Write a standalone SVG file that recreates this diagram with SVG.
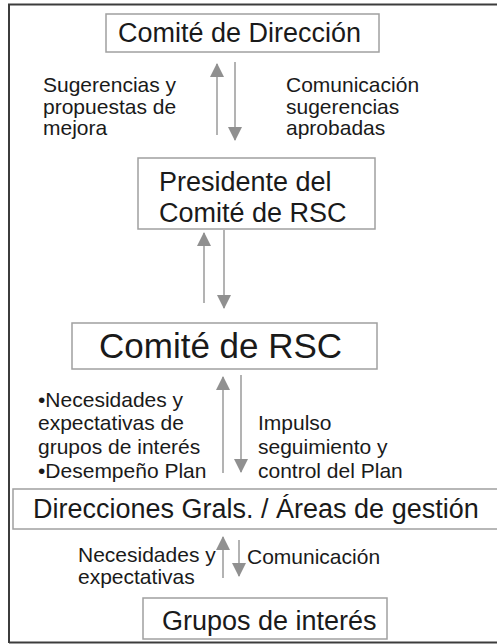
<svg xmlns="http://www.w3.org/2000/svg" width="497" height="644" viewBox="0 0 497 644">
<style>
.box{fill:#fff;stroke:#a0a0a0;stroke-width:1.5}
.t{font-family:"Liberation Sans",Arial,sans-serif;fill:#1a1a1a}
.big{font-size:27px}
.sm{font-size:21px}
.ln{stroke:#a0a0a0;stroke-width:1.6;fill:none}
</style>
<defs>
<marker id="ah" viewBox="0 0 14 14" refX="13" refY="7" markerWidth="14" markerHeight="14" markerUnits="userSpaceOnUse" orient="auto">
<path d="M0,0 L14,7 L0,14 Z" fill="#909090"/>
</marker>
</defs>
<rect x="0" y="0" width="497" height="644" fill="#fff"/>
<path d="M9,643 L9,4.5 L497,4.5 M9,642.5 L497,642.5" fill="none" stroke="#3c3c3c" stroke-width="2"/>
<g id="connectors">
<line class="ln" x1="217" y1="135" x2="217" y2="64" marker-end="url(#ah)"/>
<line class="ln" x1="235" y1="62" x2="235" y2="140" marker-end="url(#ah)"/>
<line class="ln" x1="204" y1="303" x2="204" y2="233" marker-end="url(#ah)"/>
<line class="ln" x1="224" y1="230" x2="224" y2="308" marker-end="url(#ah)"/>
<line class="ln" x1="223" y1="473" x2="223" y2="377" marker-end="url(#ah)"/>
<line class="ln" x1="241" y1="375" x2="241" y2="472" marker-end="url(#ah)"/>
<line class="ln" x1="223" y1="578" x2="223" y2="537" marker-end="url(#ah)"/>
<line class="ln" x1="239" y1="540" x2="239" y2="576" marker-end="url(#ah)"/>
</g>
<g id="comite-direccion">
<rect class="box" x="106" y="14" width="273" height="38"/>
<text class="t big" x="118" y="42">Comité de Dirección</text>
</g>
<g id="presidente">
<rect class="box" x="138" y="158" width="237" height="71"/>
<text class="t big" x="159" y="191">Presidente del</text>
<text class="t big" x="159" y="222">Comité de RSC</text>
</g>
<g id="comite-rsc">
<rect class="box" x="72" y="323" width="305" height="46"/>
<text class="t" x="99" y="358" font-size="35">Comité de RSC</text>
</g>
<g id="direcciones">
<rect class="box" x="13" y="489" width="490" height="40"/>
<text class="t big" x="33" y="518">Direcciones Grals. / Áreas de gestión</text>
</g>
<g id="grupos">
<rect class="box" x="143" y="598" width="244" height="41"/>
<text class="t big" x="162" y="630">Grupos de interés</text>
</g>
<g id="labels">
<text class="t sm" x="43" y="92">Sugerencias y</text>
<text class="t sm" x="43" y="114">propuestas de</text>
<text class="t sm" x="43" y="135">mejora</text>
<text class="t sm" x="286" y="92">Comunicación</text>
<text class="t sm" x="286" y="114">sugerencias</text>
<text class="t sm" x="286" y="135">aprobadas</text>
<text class="t sm" x="38" y="407">•Necesidades y</text>
<text class="t sm" x="38" y="430">expectativas de</text>
<text class="t sm" x="38" y="454">grupos de interés</text>
<text class="t sm" x="38" y="478">•Desempeño Plan</text>
<text class="t sm" x="258" y="430">Impulso</text>
<text class="t sm" x="258" y="454">seguimiento y</text>
<text class="t sm" x="258" y="478">control del Plan</text>
<text class="t sm" x="78" y="562">Necesidades y</text>
<text class="t sm" x="78" y="584">expectativas</text>
<text class="t sm" x="247" y="564">Comunicación</text>
</g>
</svg>
